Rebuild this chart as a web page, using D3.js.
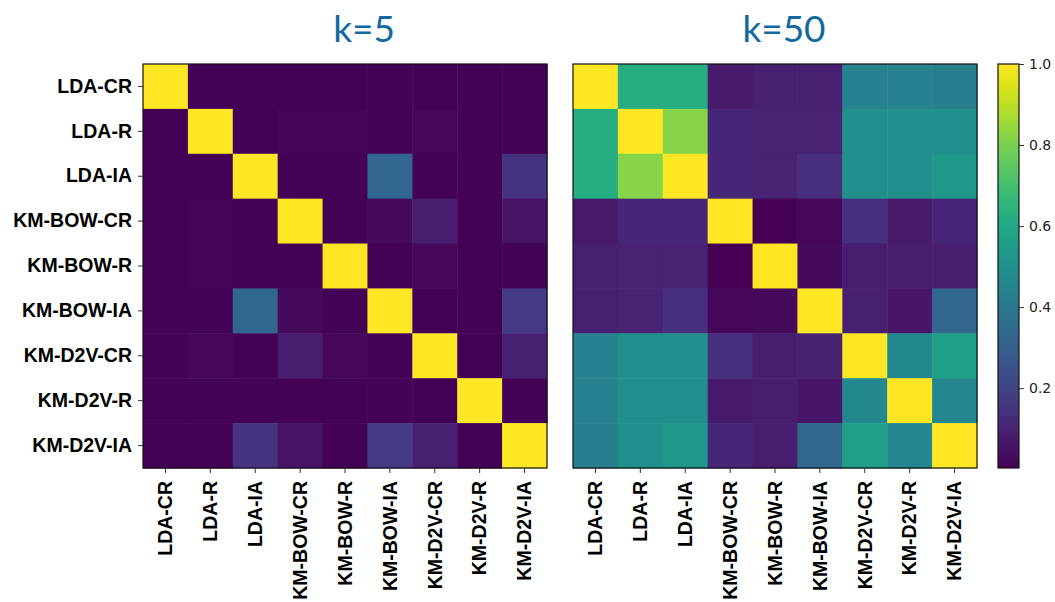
<!DOCTYPE html>
<html>
<head>
<meta charset="utf-8">
<script src="https://cdn.jsdelivr.net/npm/d3@7"></script>
<style>
  body { margin: 0; background: #fff; }
  svg { display: block; }
</style>
</head>
<body>
<svg id="chart" width="1055" height="602"></svg>
<script>
const labels = ["LDA-CR", "LDA-R", "LDA-IA", "KM-BOW-CR", "KM-BOW-R", "KM-BOW-IA", "KM-D2V-CR", "KM-D2V-R", "KM-D2V-IA"];

// similarity matrices, rows follow labels
const k5Values = [
  [1.00, 0.01, 0.01, 0.01, 0.01, 0.01, 0.01, 0.01, 0.01],
  [0.01, 1.00, 0.01, 0.015, 0.015, 0.01, 0.02, 0.01, 0.01],
  [0.01, 0.01, 1.00, 0.01, 0.01, 0.33, 0.01, 0.01, 0.15],
  [0.01, 0.015, 0.01, 1.00, 0.01, 0.03, 0.08, 0.01, 0.05],
  [0.01, 0.015, 0.01, 0.01, 1.00, 0.01, 0.02, 0.01, 0.01],
  [0.01, 0.01, 0.33, 0.03, 0.01, 1.00, 0.01, 0.01, 0.17],
  [0.01, 0.02, 0.01, 0.08, 0.02, 0.01, 1.00, 0.01, 0.09],
  [0.01, 0.01, 0.01, 0.01, 0.01, 0.01, 0.01, 1.00, 0.01],
  [0.01, 0.01, 0.15, 0.05, 0.01, 0.17, 0.09, 0.01, 1.00]
];
const k50Values = [
  [1.00, 0.62, 0.62, 0.07, 0.09, 0.09, 0.44, 0.44, 0.43],
  [0.62, 1.00, 0.82, 0.11, 0.10, 0.10, 0.50, 0.50, 0.50],
  [0.62, 0.82, 1.00, 0.11, 0.10, 0.14, 0.50, 0.50, 0.53],
  [0.07, 0.11, 0.11, 1.00, 0.00, 0.02, 0.14, 0.07, 0.11],
  [0.09, 0.10, 0.10, 0.00, 1.00, 0.03, 0.08, 0.08, 0.08],
  [0.09, 0.10, 0.14, 0.02, 0.03, 1.00, 0.09, 0.06, 0.33],
  [0.44, 0.50, 0.50, 0.14, 0.08, 0.09, 1.00, 0.47, 0.56],
  [0.44, 0.50, 0.50, 0.07, 0.08, 0.06, 0.47, 1.00, 0.46],
  [0.43, 0.50, 0.53, 0.11, 0.08, 0.33, 0.56, 0.46, 1.00]
];
const panelTitles = ["k=5", "k=50"];
const colorbarTicks = [0.2, 0.4, 0.6, 0.8, 1.0];

const svg = d3.select("#chart");
const plotTop = 64, size = 404;
const panels = [
  { title: panelTitles[0], values: k5Values, x0: 143, titleX: 364 },
  { title: panelTitles[1], values: k50Values, x0: 573, titleX: 784 }
];

const color = d3.scaleSequential(d3.interpolateViridis).domain([0.003, 1]);
const labelFont = "'Liberation Sans', Arial, sans-serif";

panels.forEach(p => {
  const g = svg.append("g").attr("transform", `translate(${p.x0},${plotTop})`);
  const x = d3.scaleBand().domain(labels).range([0, size]);
  const y = d3.scaleBand().domain(labels).range([0, size]);

  const cells = [];
  p.values.forEach((row, i) => row.forEach((v, j) => cells.push({ r: labels[i], c: labels[j], v })));

  g.selectAll("rect.cell")
    .data(cells)
    .join("rect")
    .attr("class", "cell")
    .attr("x", d => x(d.c))
    .attr("y", d => y(d.r))
    .attr("width", x.bandwidth() + 0.5)
    .attr("height", y.bandwidth() + 0.5)
    .attr("fill", d => color(d.v));

  g.append("rect")
    .attr("width", size).attr("height", size)
    .attr("fill", "none").attr("stroke", "#111").attr("stroke-width", 1.2);

  // y axis only on the left panel
  if (p === panels[0]) {
    const ya = g.append("g").call(d3.axisLeft(y).tickSize(5).tickPadding(6));
    ya.select(".domain").remove();
    ya.selectAll("line").attr("stroke", "#333");
    ya.selectAll("text")
      .attr("font-family", labelFont).attr("font-weight", "bold")
      .attr("font-size", "19.5px").attr("fill", "#000");
  }

  const xa = g.append("g")
    .attr("transform", `translate(0,${size})`)
    .call(d3.axisBottom(x).tickSize(5).tickPadding(7));
  xa.select(".domain").remove();
  xa.selectAll("line").attr("stroke", "#333");
  xa.selectAll("text")
    .attr("font-family", labelFont).attr("font-weight", "bold")
    .attr("font-size", "19.5px").attr("fill", "#000")
    .attr("transform", "rotate(-90)")
    .attr("text-anchor", "end")
    .attr("x", -13).attr("y", 0).attr("dy", "0.35em");

  svg.append("text")
    .attr("x", p.titleX).attr("y", 42)
    .attr("text-anchor", "middle")
    .attr("font-family", "Lato, 'Open Sans', sans-serif")
    .attr("font-size", "37px")
    .attr("fill", "#13699e")
    .text(p.title);
});

// colorbar
const cbX = 998, cbW = 21;
const cy = d3.scaleLinear().domain([0.003, 1]).range([plotTop + size, plotTop]);
const defs = svg.append("defs");
const grad = defs.append("linearGradient").attr("id", "vir")
  .attr("x1", 0).attr("y1", 1).attr("x2", 0).attr("y2", 0);
d3.range(0, 1.0001, 0.05).forEach(t => {
  grad.append("stop").attr("offset", t).attr("stop-color", d3.interpolateViridis(t));
});
svg.append("rect")
  .attr("x", cbX).attr("y", plotTop).attr("width", cbW).attr("height", size)
  .attr("fill", "url(#vir)").attr("stroke", "#111").attr("stroke-width", 1.2);

const cba = svg.append("g")
  .attr("transform", `translate(${cbX + cbW},0)`)
  .call(d3.axisRight(cy).tickValues(colorbarTicks).tickFormat(d3.format(".1f")).tickSize(5).tickPadding(5));
cba.select(".domain").remove();
cba.selectAll("line").attr("stroke", "#333");
cba.selectAll("text")
  .attr("font-family", "'DejaVu Sans', sans-serif")
  .attr("font-size", "14px").attr("fill", "#222");
</script>
</body>
</html>
